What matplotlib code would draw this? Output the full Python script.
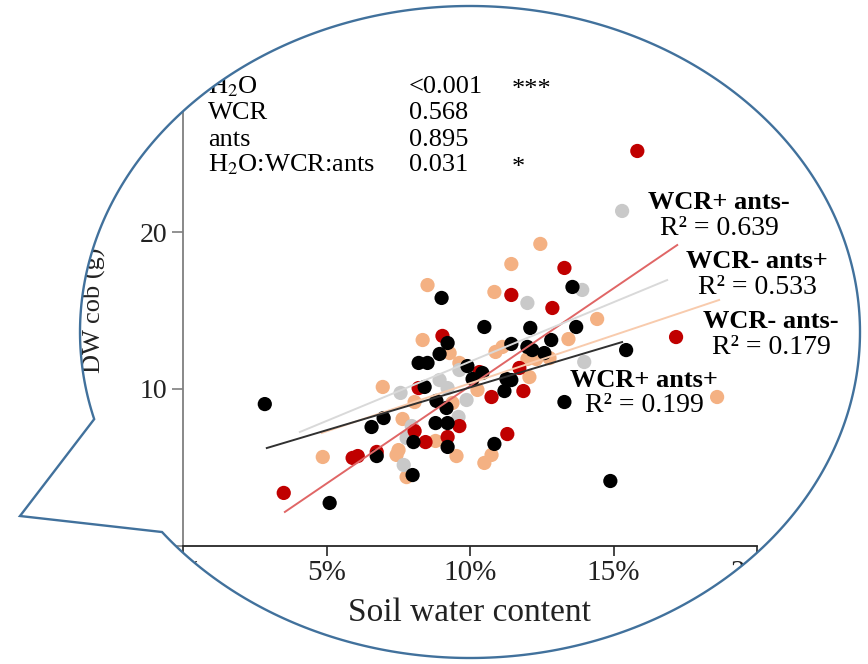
import numpy as np
import matplotlib.pyplot as plt
from matplotlib.path import Path
from matplotlib.patches import PathPatch
from matplotlib.ticker import FuncFormatter

plt.rcParams['font.family'] = ['Liberation Serif', 'DejaVu Serif']
plt.rcParams['mathtext.fontset'] = 'stix'

# groups (order: red, gray, peach, black)
groups = ['WCR+ ants-', 'WCR- ants+', 'WCR- ants-', 'WCR+ ants+']
r2_vals = ['0.639', '0.533', '0.179', '0.199']

# soil water content (%) / DW cob (g) per group
x_red = [8.21, 8.07, 8.45, 5.91, 6.09, 6.75, 3.51, 11.44, 12.87, 9.04, 11.72, 10.33,
         11.86, 10.75, 9.63, 9.22, 11.30, 13.29, 17.18, 15.83]
y_red = [10.06, 7.32, 6.62, 5.61, 5.73, 5.99, 3.38, 15.99, 15.16, 13.38, 11.34, 11.08,
         9.87, 9.49, 7.64, 6.94, 7.13, 17.71, 13.31, 25.16]

x_gray = [7.58, 7.79, 7.69, 12.00, 9.63, 8.94, 9.22, 9.88, 9.60, 7.97, 13.91, 13.98, 15.30]
y_gray = [9.75, 6.88, 5.16, 15.48, 11.21, 10.57, 10.06, 9.30, 8.22, 7.64, 16.31, 11.72, 21.34]

x_peach = [8.52, 8.35, 6.96, 8.07, 7.65, 4.87, 7.44, 7.51, 7.79, 10.85, 9.29, 9.63, 10.89,
           11.13, 13.43, 12.00, 12.31, 12.77, 12.07, 10.26, 9.39, 8.80, 9.53, 10.75, 10.50,
           14.43, 18.61, 12.45, 11.44]
y_peach = [16.62, 13.12, 10.13, 9.17, 8.09, 5.67, 5.80, 6.11, 4.39, 16.18, 12.29, 11.66, 12.36,
           12.68, 13.18, 11.91, 11.91, 11.97, 10.76, 9.94, 9.11, 6.69, 5.73, 5.80, 5.29,
           14.46, 9.49, 19.24, 17.96]

x_black = [2.85, 8.21, 8.52, 8.42, 6.99, 6.57, 8.03, 6.75, 8.00, 5.11, 9.01, 13.57, 10.50,
           12.10, 9.22, 8.94, 9.91, 11.44, 12.00, 12.17, 12.59, 12.83, 10.43, 10.09, 11.27,
           11.44, 8.83, 9.18, 8.80, 9.22, 9.22, 11.20, 10.85, 13.29, 13.70, 15.44, 14.89]
y_black = [9.04, 11.66, 11.66, 10.13, 8.15, 7.58, 6.62, 5.73, 4.52, 2.74, 15.80, 16.50, 13.95,
           13.89, 12.93, 12.23, 11.46, 12.87, 12.68, 12.48, 12.29, 13.12, 11.02, 10.64, 10.64,
           10.57, 9.24, 8.79, 7.83, 7.83, 6.31, 9.87, 6.50, 9.17, 13.95, 12.48, 4.14]

# trendline end points
fit_x = [[3.55, 17.22], [4.07, 16.87], [4.83, 18.68], [2.92, 15.30]]
fit_y = [[2.17, 19.17], [7.26, 16.94], [7.20, 15.67], [6.24, 12.99]]

# anova table
terms = [r'H$_2$O', 'WCR', 'ants', r'H$_2$O:WCR:ants']
pvals = ['<0.001', '0.568', '0.895', '0.031']
stars = ['***', '', '', '*']

dot_cols = ['#C00000', '#C9C9C9', '#F4B183', '#000000']
line_cols = ['#E06666', '#D9D9D9', '#F8CBAD', '#303030']

W, H = 868, 664
fig = plt.figure(figsize=(W / 100, H / 100), dpi=100)
ax = fig.add_axes([183 / W, 118 / H, 574 / W, 471 / H])

xs = [x_red, x_gray, x_peach, x_black]
ys = [y_red, y_gray, y_peach, y_black]
for i in [2, 1, 0, 3]:
    ax.scatter(xs[i], ys[i], s=105, color=dot_cols[i], edgecolors='none', zorder=2)
for i in range(4):
    ax.plot(fit_x[i], fit_y[i], color=line_cols[i], lw=1.4, zorder=3)

ax.set_xlim(0, 20)
ax.set_ylim(0, 30)
ax.set_xticks([0, 5, 10, 15, 20])
ax.set_yticks([0, 10, 20, 30])
ax.xaxis.set_major_formatter(FuncFormatter(lambda v, p: '%d%%' % v))
for s in ['top', 'right']:
    ax.spines[s].set_visible(False)
ax.spines['left'].set_color('#7F7F7F')
ax.spines['bottom'].set_color('#262626')
ax.spines['left'].set_linewidth(1.3)
ax.spines['bottom'].set_linewidth(1.3)
ax.tick_params(axis='x', direction='out', length=7, width=1.2, colors='#262626',
               labelsize=21, labelcolor='#222222', pad=3)
ax.tick_params(axis='y', direction='out', length=8, width=1.2, colors='#7F7F7F',
               labelsize=20, labelcolor='#222222', pad=3)

ax.set_xlabel('Soil water content', fontsize=24, color='#222222')
ax.xaxis.set_label_coords(0.5, -0.11)
ax.set_ylabel('DW cob (g)', fontsize=19, color='#222222')
ax.yaxis.set_label_coords(-0.135, 0.5)

# anova text block
row_y = [0.9745, 0.919, 0.862, 0.809]
for i in range(4):
    ax.text(0.044, row_y[i], terms[i], transform=ax.transAxes, fontsize=19, va='center')
    ax.text(0.393, row_y[i], pvals[i], transform=ax.transAxes, fontsize=19, va='center')
    ax.text(0.573, row_y[i] - 0.006, stars[i], transform=ax.transAxes, fontsize=19,
            va='center', ha='left')

# group labels with R2
lab_pos = [(18.68, 21.85), (20.0, 18.09), (20.49, 14.27), (16.07, 10.57)]
for i in range(4):
    lx, ly = lab_pos[i]
    ax.text(lx, ly, groups[i], fontsize=19, fontweight='bold', ha='center', va='center',
            clip_on=False)
    ax.text(lx, ly - 1.6, 'R² = ' + r2_vals[i], fontsize=20, ha='center', va='center',
            clip_on=False)

# speech bubble: white mask outside, blue outline
cx, cy, rx, ry = 470, 332, 390, 326
th = np.linspace(2.871, 2.481 + 2 * np.pi, 400)
bx = list(cx + rx * np.cos(th)) + [20]
by = list(cy + ry * np.sin(th)) + [516]
bub = [(x / W, 1 - y / H) for x, y in zip(bx, by)]
bub.append(bub[0])
rect = [(-0.02, -0.02), (1.02, -0.02), (1.02, 1.02), (-0.02, 1.02), (-0.02, -0.02)]
verts = rect + bub
codes = ([Path.MOVETO] + [Path.LINETO] * 3 + [Path.CLOSEPOLY] +
         [Path.MOVETO] + [Path.LINETO] * (len(bub) - 2) + [Path.CLOSEPOLY])
mask = PathPatch(Path(verts, codes), facecolor='white', edgecolor='none',
                 transform=fig.transFigure, zorder=10)
fig.add_artist(mask)
bcodes = [Path.MOVETO] + [Path.LINETO] * (len(bub) - 2) + [Path.CLOSEPOLY]
outline = PathPatch(Path(bub, bcodes), facecolor='none', edgecolor='#41719C', lw=1.7,
                    transform=fig.transFigure, zorder=11)
fig.add_artist(outline)

fig.savefig('out.png', dpi=100)
